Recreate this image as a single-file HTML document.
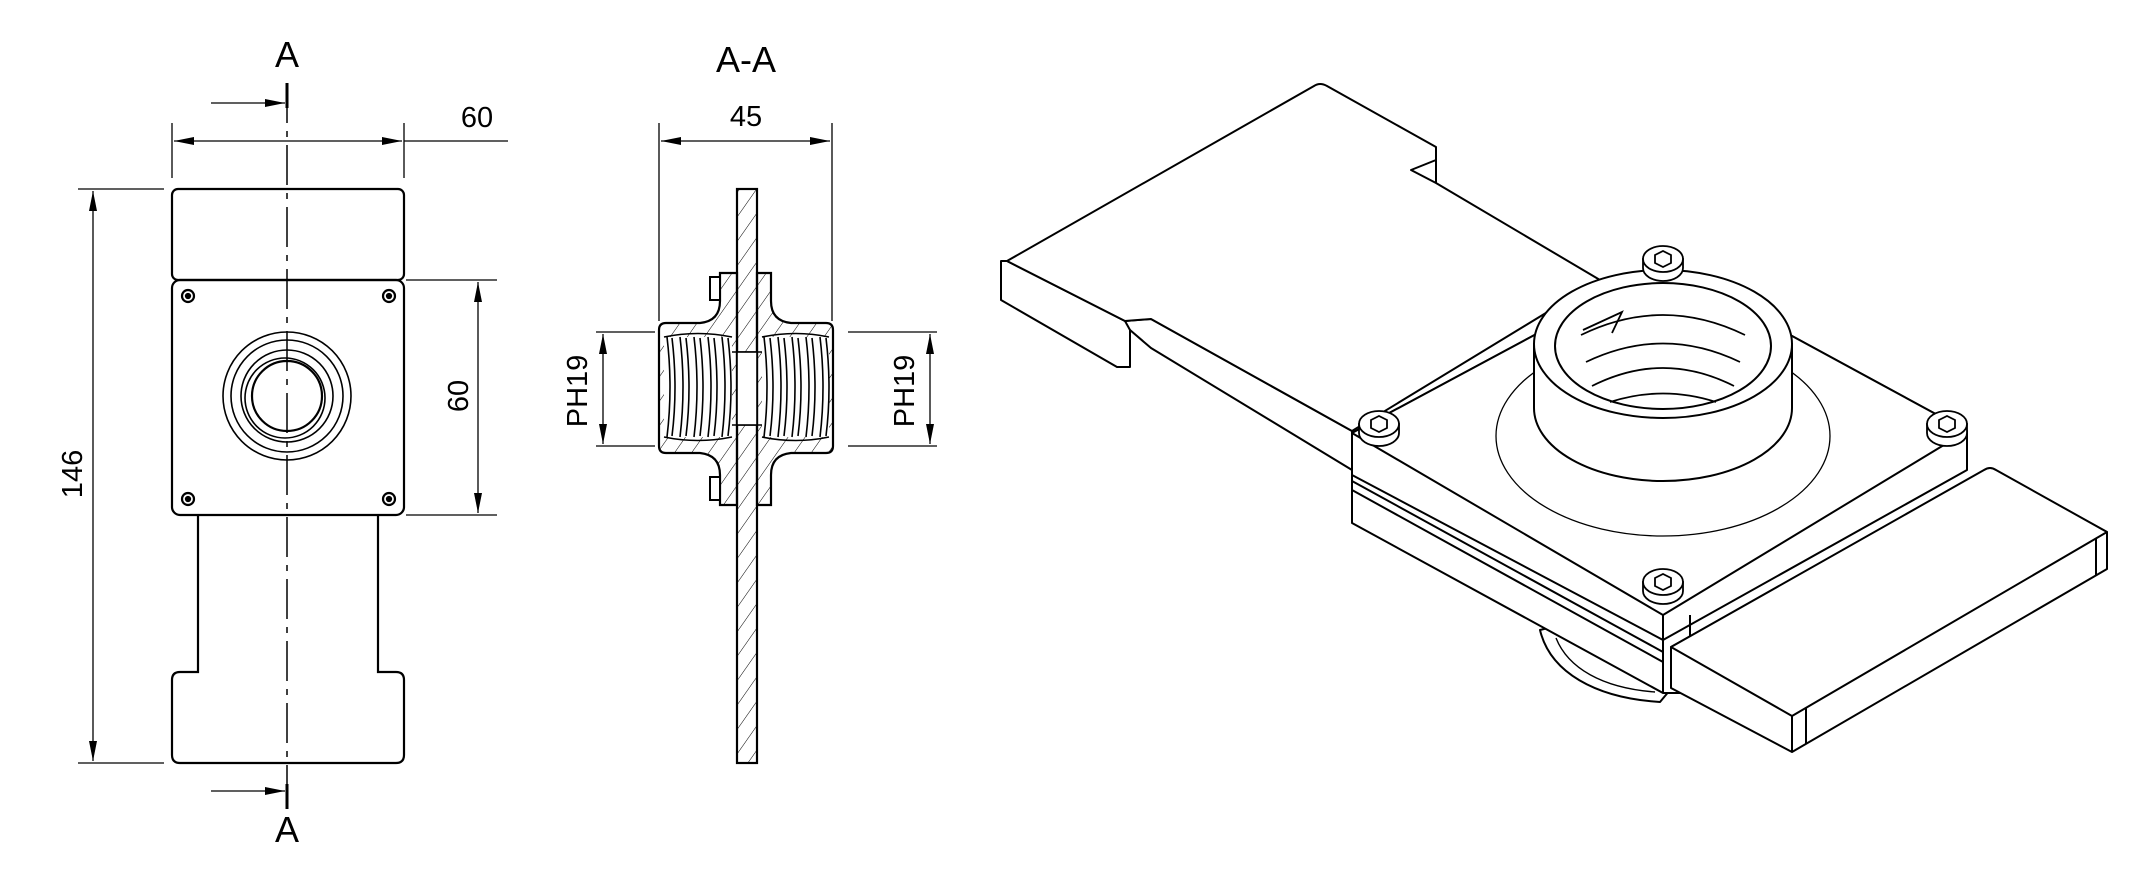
<!DOCTYPE html>
<html><head><meta charset="utf-8"><style>
html,body{margin:0;padding:0;background:#fff;overflow:hidden}
svg{display:block}
text{font-family:"Liberation Sans",sans-serif;fill:#000}
</style></head><body>
<svg width="2140" height="880" viewBox="0 0 2140 880" xmlns="http://www.w3.org/2000/svg">
<defs>
<pattern id="h" width="14" height="14" patternUnits="userSpaceOnUse" patternTransform="rotate(35)">
<line x1="0" y1="0" x2="0" y2="14" stroke="#000" stroke-width="1"/>
</pattern>
<marker id="ar" viewBox="0 0 20 8" refX="20" refY="4" markerWidth="20" markerHeight="8" markerUnits="userSpaceOnUse" orient="auto-start-reverse">
<path d="M0,0 L20,4 L0,8 Z" fill="#000"/></marker>
</defs>
<g fill="none" stroke="#000" stroke-width="1.3">
<!-- FRONT VIEW -->
<line x1="287" y1="83" x2="287" y2="809" stroke-width="1.5" stroke-dasharray="40,8,6,8"/>
<line x1="287" y1="83" x2="287" y2="108" stroke-width="3"/>
<line x1="287" y1="784" x2="287" y2="809" stroke-width="3"/>
<line x1="211" y1="103" x2="285" y2="103" marker-end="url(#ar)"/>
<line x1="211" y1="791" x2="285" y2="791" marker-end="url(#ar)"/>
<g stroke-width="2.2">
<rect x="172" y="189" width="232" height="91" rx="6"/>
<rect x="172" y="280" width="232" height="235" rx="8"/>
<path d="M198,515 V672 H180 Q172,672 172,680 V755 Q172,763 180,763 H396 Q404,763 404,755 V680 Q404,672 396,672 H378 V515"/>
</g>
<g stroke-width="2.2">
<circle cx="188" cy="296" r="6"/><circle cx="389" cy="296" r="6"/>
<circle cx="188" cy="499" r="6"/><circle cx="389" cy="499" r="6"/>
</g>
<circle cx="188" cy="296" r="2.5" fill="#000"/><circle cx="389" cy="296" r="2.5" fill="#000"/>
<circle cx="188" cy="499" r="2.5" fill="#000"/><circle cx="389" cy="499" r="2.5" fill="#000"/>
<circle cx="287" cy="396" r="64" stroke-width="1.6"/>
<circle cx="287" cy="396" r="56" stroke-width="1.6"/>
<circle cx="287" cy="396" r="46" stroke-width="1.6"/>
<circle cx="285" cy="398" r="40" stroke-width="1.6"/>
<circle cx="287" cy="396" r="35" stroke-width="2.2"/>
<!-- dims front -->
<line x1="172" y1="123" x2="172" y2="178"/>
<line x1="404" y1="123" x2="404" y2="178"/>
<line x1="174" y1="141" x2="402" y2="141" marker-start="url(#ar)" marker-end="url(#ar)"/>
<line x1="404" y1="141" x2="508" y2="141"/>
<line x1="78" y1="189" x2="164" y2="189"/>
<line x1="78" y1="763" x2="164" y2="763"/>
<line x1="93" y1="191" x2="93" y2="761" marker-start="url(#ar)" marker-end="url(#ar)"/>
<line x1="406" y1="280" x2="497" y2="280"/>
<line x1="406" y1="515" x2="497" y2="515"/>
<line x1="478" y1="282" x2="478" y2="513" marker-start="url(#ar)" marker-end="url(#ar)"/>
<!-- SECTION VIEW -->
<line x1="659" y1="123" x2="659" y2="321"/>
<line x1="832" y1="123" x2="832" y2="321"/>
<line x1="661" y1="141" x2="830" y2="141" marker-start="url(#ar)" marker-end="url(#ar)"/>
<rect x="737" y="189" width="20" height="574" fill="url(#h)" stroke-width="2.2"/>
<path d="M720,273 H737 V505 H720 V475 Q720,455 700,453 H666 Q659,453 659,446 V330 Q659,323 666,323 H700 Q720,321 720,301 Z" fill="url(#h)" stroke-width="2.2"/>
<path d="M757,273 H771 V301 Q771,321 791,323 H826 Q833,323 833,330 V446 Q833,453 826,453 H791 Q771,455 771,475 V505 H757 Z" fill="url(#h)" stroke-width="2.2"/>
<rect x="710" y="277" width="10" height="23" stroke-width="2" fill="#fff"/>
<rect x="710" y="477" width="10" height="23" stroke-width="2" fill="#fff"/>
<rect x="664" y="337" width="68" height="100" fill="#fff" stroke="none"/>
<rect x="762" y="337" width="67" height="100" fill="#fff" stroke="none"/>
<g stroke-width="1.6">
<path d="M667,337 q6,50 0,100 M672,338 q6,50 0,98 M680,337 q6,50 0,100 M686,338 q6,50 0,98 M694,337 q6,50 0,100 M700,338 q6,50 0,98 M708,337 q6,50 0,100 M714,338 q6,50 0,98 M722,337 q6,50 0,100 M728,338 q6,50 0,98"/>
<path d="M764,337 q6,50 0,100 M770,338 q6,50 0,98 M778,337 q6,50 0,100 M784,338 q6,50 0,98 M792,337 q6,50 0,100 M798,338 q6,50 0,98 M806,337 q6,50 0,100 M812,338 q6,50 0,98 M820,337 q6,50 0,100 M826,338 q6,50 0,98"/>
<path d="M664,337 Q698,330 732,337 M664,437 Q698,444 732,437 M762,337 Q796,330 829,337 M762,437 Q796,444 829,437"/>
<line x1="732" y1="352" x2="762" y2="352"/><line x1="732" y1="425" x2="762" y2="425"/>
</g>
<rect x="737" y="352" width="20" height="73" fill="#fff" stroke-width="1.6"/>
<line x1="596" y1="332" x2="655" y2="332"/>
<line x1="596" y1="446" x2="655" y2="446"/>
<line x1="603" y1="334" x2="603" y2="444" marker-start="url(#ar)" marker-end="url(#ar)"/>
<line x1="848" y1="332" x2="937" y2="332"/>
<line x1="848" y1="446" x2="937" y2="446"/>
<line x1="930" y1="334" x2="930" y2="444" marker-start="url(#ar)" marker-end="url(#ar)"/>
</g>
<g font-size="36" text-anchor="middle">
<text x="287" y="67">A</text>
<text x="287" y="842">A</text>
<text x="746" y="72">A-A</text>
</g>
<g font-size="29" text-anchor="middle">
<text x="477" y="127">60</text>
<text x="746" y="126">45</text>
<text transform="translate(82,474) rotate(-90)">146</text>
<text transform="translate(468,396) rotate(-90)">60</text>
<text transform="translate(587,391) rotate(-90)">PH19</text>
<text transform="translate(914,391) rotate(-90)">PH19</text>
</g>
<!-- ISOMETRIC -->
<g fill="#fff" stroke="#000" stroke-width="2" stroke-linejoin="round">
<!-- bottom peek -->
<path d="M1540,630 C1550,672 1595,698 1660,702 L1670,690 L1560,625 Z"/>
<path d="M1556,638 C1568,668 1602,688 1655,692" fill="none" stroke-width="1.4"/>
<!-- left plate side faces -->
<path d="M1001,261 V300 L1117,367 H1130 V330 L1151,348 L1352,470 V431 L1151,319 L1125,321 L1007,261 Z"/>
<line x1="1125" y1="321" x2="1130" y2="330"/>
<!-- left plate top -->
<path d="M1007,261 L1314,86 Q1320,82 1327,86 L1436,147 V160 L1411,170 L1436,183 L1600,280 L1352,431 L1151,319 L1125,321 Z"/>
<line x1="1436" y1="160" x2="1436" y2="183"/>
<!-- central block -->
<path d="M1352,433 V523 L1663,693 L1690,693 V600 L1967,431 Z"/>
<path d="M1352,433 L1663,266 L1967,431 V470 L1663,640 L1352,475 Z"/>
<path d="M1352,433 L1663,266 L1967,431 L1663,615 Z"/>
<line x1="1352" y1="481" x2="1663" y2="652"/>
<line x1="1352" y1="490" x2="1663" y2="662"/>
<line x1="1663" y1="615" x2="1663" y2="693"/>
<line x1="1690" y1="615" x2="1690" y2="693"/>
<!-- right plate -->
<path d="M1671,647 L1990,468 L2107,532 V569 L1792,752 L1671,688 Z"/>
<path d="M1671,647 L1984,470 Q1990,466 1996,470 L2107,532 L1792,716 Z"/>
<line x1="1792" y1="716" x2="1792" y2="752"/>
<line x1="1806" y1="708" x2="1806" y2="744"/>
<line x1="2096" y1="538" x2="2096" y2="575"/>
</g>
<g fill="none" stroke="#000">
<ellipse cx="1663" cy="436" rx="167" ry="100" stroke-width="1.3"/>
</g>
<g stroke="#000" stroke-width="2">
<path d="M1534,344 V408 A129,73 0 0 0 1792,408 V344 Z" fill="#fff"/>
<ellipse cx="1663" cy="344" rx="129" ry="74" fill="#fff"/>
<ellipse cx="1663" cy="346" rx="108" ry="63" fill="#fff"/>
<g fill="none" stroke-width="1.8">
<path d="M1581,335 Q1663,295 1745,335"/>
<path d="M1586,362 Q1663,325 1740,362"/>
<path d="M1592,386 Q1663,350 1734,386"/>
<path d="M1610,402 Q1663,385 1716,402"/>
<path d="M1583,330 L1622,312 L1612,333"/>
</g>
</g>
<g fill="#fff" stroke="#000" stroke-width="1.8">
<path d="M1643,259 V268 A20,13 0 0 0 1683,268 V259 Z"/><ellipse cx="1663" cy="259" rx="20" ry="13"/><path d="M1655,255 L1663,251 L1671,255 L1671,263 L1663,267 L1655,263 Z"/>
<path d="M1359,424 V433 A20,13 0 0 0 1399,433 V424 Z"/><ellipse cx="1379" cy="424" rx="20" ry="13"/><path d="M1371,420 L1379,416 L1387,420 L1387,428 L1379,432 L1371,428 Z"/>
<path d="M1927,424 V433 A20,13 0 0 0 1967,433 V424 Z"/><ellipse cx="1947" cy="424" rx="20" ry="13"/><path d="M1939,420 L1947,416 L1955,420 L1955,428 L1947,432 L1939,428 Z"/>
<path d="M1643,582 V591 A20,13 0 0 0 1683,591 V582 Z"/><ellipse cx="1663" cy="582" rx="20" ry="13"/><path d="M1655,578 L1663,574 L1671,578 L1671,586 L1663,590 L1655,586 Z"/>
</g>
</svg>
</body></html>
